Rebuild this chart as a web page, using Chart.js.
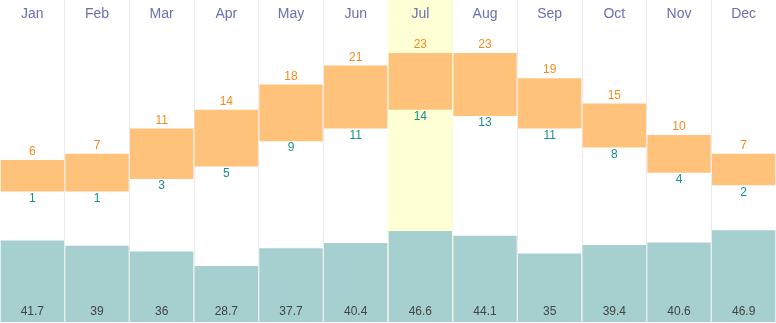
<!DOCTYPE html>
<html>
<head>
<meta charset="utf-8">
<script src="https://cdn.jsdelivr.net/npm/chart.js@4"></script>
<style>
  body { margin: 0; background: #fff; }
  #wrap { width: 776px; height: 323px; position: relative; }
</style>
</head>
<body>
<div id="wrap"><canvas id="climateChart"></canvas></div>
<script>
const months = ['Jan', 'Feb', 'Mar', 'Apr', 'May', 'Jun', 'Jul', 'Aug', 'Sep', 'Oct', 'Nov', 'Dec'];
const maxTemp = [6, 7, 11, 14, 18, 21, 23, 23, 19, 15, 10, 7];
const minTemp = [1, 1, 3, 5, 9, 11, 14, 13, 11, 8, 4, 2];
const rainfall = [41.7, 39, 36, 28.7, 37.7, 40.4, 46.6, 44.1, 35, 39.4, 40.6, 46.9];
const highlightMonth = 6; // Jul

// kolom bulan yang disorot
const highlightPlugin = {
    id: 'highlight',
    beforeDatasetsDraw(chart) {
        const x = chart.scales.x;
        const area = chart.chartArea;
        const half = (x.getPixelForValue(1) - x.getPixelForValue(0)) / 2;
        const cx = x.getPixelForValue(highlightMonth);
        const ctx = chart.ctx;
        ctx.save();
        ctx.fillStyle = '#ffffd6';
        ctx.fillRect(cx - half, area.top, half * 2, area.bottom - area.top);
        ctx.restore();
    }
};

// label bulan + nilai
const labelPlugin = {
    id: 'labels',
    afterDatasetsDraw(chart) {
        const ctx = chart.ctx;
        const x = chart.scales.x;
        const yT = chart.scales.yT;
        ctx.save();
        ctx.textAlign = 'center';
        ctx.textBaseline = 'middle';
        months.forEach((m, i) => {
            const cx = x.getPixelForValue(i);
            ctx.font = '14px "Liberation Sans", Arial, sans-serif';
            ctx.fillStyle = '#6b70b0';
            ctx.fillText(m, cx, 14);

            ctx.font = '12px "Liberation Sans", Arial, sans-serif';
            ctx.fillStyle = '#f5891f';
            ctx.fillText(maxTemp[i], cx, yT.getPixelForValue(maxTemp[i]) - 8);
            ctx.fillStyle = '#17908c';
            ctx.fillText(minTemp[i], cx, yT.getPixelForValue(minTemp[i]) + 7);
            ctx.fillStyle = '#444';
            ctx.fillText(rainfall[i], cx, chart.chartArea.bottom - 10);
        });
        ctx.restore();
    }
};

const climateChart = new Chart(document.getElementById('climateChart').getContext('2d'), {
    type: 'bar',
    data: {
        labels: months,
        datasets: [{
            label: 'Temperature',
            data: months.map((m, i) => [minTemp[i], maxTemp[i]]),
            backgroundColor: '#ffc27a',
            yAxisID: 'yT',
            grouped: false,
            barPercentage: 0.98,
            categoryPercentage: 1
        }, {
            label: 'Rainfall',
            data: rainfall,
            backgroundColor: '#a6cfcf',
            yAxisID: 'yP',
            grouped: false,
            barPercentage: 0.98,
            categoryPercentage: 1
        }]
    },
    options: {
        responsive: true,
        maintainAspectRatio: false,
        animation: false,
        layout: { padding: { bottom: 1 } },
        plugins: {
            legend: { display: false },
            tooltip: { enabled: false }
        },
        scales: {
            x: {
                ticks: { display: false },
                border: { display: false },
                grid: {
                    offset: true,
                    drawTicks: false,
                    color: '#ebebeb'
                }
            },
            yT: {
                display: false,
                min: -19.7,
                max: 31.41
            },
            yP: {
                display: false,
                min: 0,
                max: 164.7
            }
        }
    },
    plugins: [highlightPlugin, labelPlugin]
});
</script>
</body>
</html>
